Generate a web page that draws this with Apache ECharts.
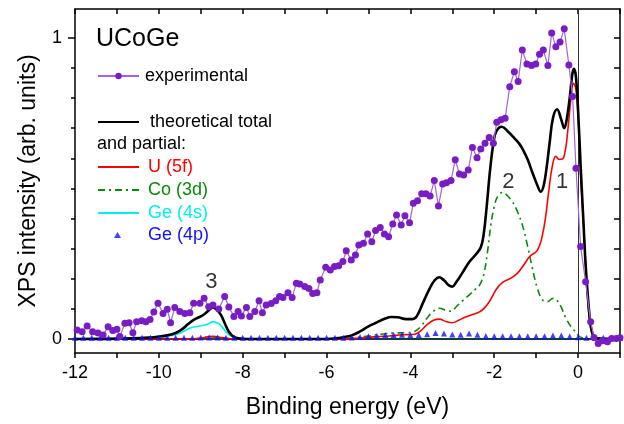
<!DOCTYPE html>
<html>
<head>
<meta charset="utf-8">
<script src="https://cdn.jsdelivr.net/npm/echarts@6/dist/echarts.min.js"></script>
<style>
  html, body { margin: 0; padding: 0; background: #ffffff; }
  #chart { width: 624px; height: 424px; }
</style>
</head>
<body>
<div id="chart"></div>
<script>
// Valence-band XPS of UCoGe: measured spectrum against the calculated total and partial DOS.

// measured spectrum: [binding energy (eV), intensity]
const experimental = [
  [-11.95, 0.030], [-11.83, 0.024], [-11.71, 0.043], [-11.58, 0.024], [-11.45, 0.020],
  [-11.33, 0.013], [-11.21, 0.041], [-11.10, 0.028], [-11.00, 0.032], [-10.93, 0.008],
  [-10.81, 0.052], [-10.71, 0.054], [-10.62, 0.021], [-10.53, 0.057], [-10.41, 0.061],
  [-10.31, 0.057], [-10.21, 0.065], [-10.12, 0.090], [-10.02, 0.119], [-9.90, 0.085],
  [-9.80, 0.099], [-9.72, 0.054], [-9.62, 0.105], [-9.50, 0.091], [-9.38, 0.085],
  [-9.26, 0.087], [-9.17, 0.119], [-9.02, 0.119], [-8.92, 0.135], [-8.81, 0.107],
  [-8.71, 0.113], [-8.57, 0.100], [-8.43, 0.141], [-8.33, 0.106], [-8.21, 0.075],
  [-8.11, 0.091], [-8.03, 0.076], [-7.91, 0.105], [-7.83, 0.075], [-7.71, 0.091],
  [-7.61, 0.127], [-7.53, 0.087], [-7.44, 0.113], [-7.32, 0.118], [-7.21, 0.127],
  [-7.12, 0.141], [-7.04, 0.138], [-6.92, 0.154], [-6.82, 0.138], [-6.72, 0.185],
  [-6.64, 0.183], [-6.52, 0.174], [-6.42, 0.168], [-6.33, 0.151], [-6.23, 0.154],
  [-6.15, 0.196], [-6.02, 0.238], [-5.91, 0.229], [-5.81, 0.241], [-5.71, 0.243],
  [-5.61, 0.257], [-5.53, 0.293], [-5.41, 0.262], [-5.31, 0.279], [-5.23, 0.312],
  [-5.12, 0.318], [-5.02, 0.349], [-4.92, 0.323], [-4.83, 0.360], [-4.72, 0.370],
  [-4.62, 0.349], [-4.52, 0.340], [-4.42, 0.382], [-4.33, 0.412], [-4.22, 0.379],
  [-4.13, 0.409], [-4.02, 0.386], [-3.93, 0.451], [-3.83, 0.459], [-3.73, 0.482],
  [-3.63, 0.482], [-3.53, 0.475], [-3.43, 0.526], [-3.33, 0.442], [-3.23, 0.515],
  [-3.14, 0.519], [-3.03, 0.526], [-2.93, 0.595], [-2.83, 0.548], [-2.73, 0.545],
  [-2.62, 0.561], [-2.52, 0.636], [-2.41, 0.602], [-2.32, 0.631], [-2.22, 0.650],
  [-2.12, 0.669], [-2.02, 0.650], [-1.94, 0.720], [-1.84, 0.728], [-1.74, 0.733],
  [-1.63, 0.838], [-1.52, 0.888], [-1.43, 0.855], [-1.33, 0.960], [-1.22, 0.913],
  [-1.11, 0.908], [-1.01, 0.913], [-0.92, 0.946], [-0.83, 0.960], [-0.72, 0.908],
  [-0.63, 1.016], [-0.53, 0.971], [-0.43, 0.986], [-0.33, 1.030], [-0.22, 0.910],
  [-0.13, 0.805], [-0.05, 0.567], [0.06, 0.307], [0.18, 0.190], [0.30, 0.057],
  [0.38, 0.005], [0.48, -0.015], [0.58, -0.006], [0.70, -0.009], [0.80, 0.002],
  [0.91, 0.002], [1.00, 0.004]
];

// calculated total DOS
const theoryTotal = [
  [-12.0, 0], [-10.6, 0.002], [-10.2, 0.005], [-10.0, 0.008], [-9.8, 0.012],
  [-9.6, 0.020], [-9.45, 0.032], [-9.3, 0.050], [-9.15, 0.065], [-9.0, 0.075],
  [-8.9, 0.084], [-8.8, 0.096], [-8.71, 0.105], [-8.62, 0.098], [-8.52, 0.080],
  [-8.42, 0.050], [-8.33, 0.024], [-8.22, 0.008], [-8.1, 0.002], [-7.9, 0],
  [-6.0, 0], [-5.8, 0.002], [-5.6, 0.006], [-5.4, 0.012], [-5.2, 0.025],
  [-5.0, 0.042], [-4.8, 0.055], [-4.6, 0.068], [-4.45, 0.073], [-4.3, 0.072],
  [-4.1, 0.066], [-3.95, 0.066], [-3.85, 0.075], [-3.7, 0.120], [-3.55, 0.165],
  [-3.42, 0.195], [-3.31, 0.205], [-3.2, 0.195], [-3.08, 0.178], [-3.0, 0.174],
  [-2.9, 0.190], [-2.75, 0.222], [-2.6, 0.255], [-2.45, 0.279], [-2.32, 0.305],
  [-2.25, 0.350], [-2.18, 0.440], [-2.1, 0.560], [-2.02, 0.650], [-1.95, 0.690],
  [-1.82, 0.705], [-1.68, 0.690], [-1.52, 0.667], [-1.4, 0.648], [-1.3, 0.625],
  [-1.2, 0.595], [-1.09, 0.553], [-0.97, 0.510], [-0.89, 0.489], [-0.82, 0.510],
  [-0.75, 0.570], [-0.68, 0.650], [-0.6, 0.733], [-0.5, 0.763], [-0.4, 0.728],
  [-0.33, 0.700], [-0.27, 0.730], [-0.2, 0.800], [-0.14, 0.877], [-0.1, 0.897],
  [-0.05, 0.870], [0.0, 0.760], [0.06, 0.578], [0.12, 0.412], [0.18, 0.246],
  [0.25, 0.113], [0.30, 0.045], [0.36, 0.012], [0.45, 0.002], [1.0, 0]
];

// U 5f partial DOS
const u5f = [
  [-12.0, 0], [-9.3, 0], [-9.0, 0.003], [-8.8, 0.008], [-8.7, 0.009],
  [-8.55, 0.006], [-8.3, 0.001], [-8.0, 0], [-5.6, 0], [-5.2, 0.003],
  [-4.8, 0.008], [-4.5, 0.010], [-4.2, 0.014], [-3.9, 0.016], [-3.75, 0.028],
  [-3.6, 0.048], [-3.45, 0.062], [-3.31, 0.066], [-3.15, 0.058], [-3.0, 0.054],
  [-2.85, 0.062], [-2.7, 0.072], [-2.5, 0.082], [-2.35, 0.090], [-2.22, 0.105],
  [-2.1, 0.128], [-1.95, 0.165], [-1.8, 0.188], [-1.6, 0.202], [-1.45, 0.218],
  [-1.3, 0.245], [-1.15, 0.275], [-1.0, 0.290], [-0.92, 0.310], [-0.85, 0.345],
  [-0.78, 0.400], [-0.7, 0.490], [-0.62, 0.570], [-0.53, 0.607], [-0.45, 0.596],
  [-0.37, 0.598], [-0.3, 0.630], [-0.24, 0.700], [-0.17, 0.800], [-0.11, 0.849],
  [-0.05, 0.830], [0.01, 0.711], [0.06, 0.545], [0.14, 0.356], [0.2, 0.202],
  [0.26, 0.080], [0.33, 0.020], [0.4, 0.003], [0.5, 0], [1.0, 0]
];

// Co 3d partial DOS
const co3d = [
  [-12.0, 0], [-9.2, 0], [-9.0, 0.003], [-8.75, 0.007], [-8.5, 0.004],
  [-8.2, 0], [-5.8, 0], [-5.4, 0.004], [-5.0, 0.010], [-4.7, 0.016],
  [-4.4, 0.020], [-4.1, 0.021], [-3.9, 0.025], [-3.75, 0.042], [-3.6, 0.070],
  [-3.45, 0.092], [-3.31, 0.102], [-3.15, 0.095], [-3.03, 0.092], [-2.9, 0.108],
  [-2.75, 0.128], [-2.6, 0.146], [-2.45, 0.165], [-2.36, 0.176], [-2.25, 0.215],
  [-2.16, 0.290], [-2.08, 0.380], [-2.0, 0.440], [-1.92, 0.473], [-1.8, 0.487],
  [-1.7, 0.478], [-1.6, 0.462], [-1.48, 0.434], [-1.33, 0.379], [-1.21, 0.312],
  [-1.09, 0.235], [-0.97, 0.168], [-0.85, 0.130], [-0.73, 0.124], [-0.6, 0.135],
  [-0.5, 0.128], [-0.4, 0.105], [-0.3, 0.072], [-0.17, 0.041], [-0.06, 0.024],
  [0.02, 0.010], [0.12, 0.003], [0.3, 0], [1.0, 0]
];

// Ge 4s partial DOS
const ge4s = [
  [-12.0, 0], [-10.5, 0.001], [-10.0, 0.004], [-9.75, 0.010], [-9.5, 0.019],
  [-9.26, 0.036], [-9.02, 0.043], [-8.83, 0.050], [-8.71, 0.057], [-8.6, 0.053],
  [-8.5, 0.042], [-8.39, 0.022], [-8.25, 0.007], [-8.1, 0.001], [-7.8, 0], [1.0, 0]
];

// Ge 4p partial DOS (sampled every 0.2 eV)
const ge4pEnergy = [
  -12.0, -11.8, -11.6, -11.4, -11.2, -11.0, -10.8, -10.6, -10.4, -10.2,
  -10.0, -9.8, -9.6, -9.4, -9.2, -9.0, -8.8, -8.6, -8.4, -8.2,
  -8.0, -7.8, -7.6, -7.4, -7.2, -7.0, -6.8, -6.6, -6.4, -6.2,
  -6.0, -5.8, -5.6, -5.4, -5.2, -5.0, -4.8, -4.6, -4.4, -4.2,
  -4.0, -3.8, -3.6, -3.4, -3.2, -3.0, -2.8, -2.6, -2.4, -2.2,
  -2.0, -1.8, -1.6, -1.4, -1.2, -1.0, -0.8, -0.6, -0.4, -0.2,
  0.0, 0.2, 0.4, 0.6, 0.8, 1.0
];
const ge4pValue = [
  0.004, 0.004, 0.004, 0.004, 0.004, 0.004, 0.004, 0.004, 0.004, 0.004,
  0.004, 0.004, 0.004, 0.004, 0.004, 0.005, 0.005, 0.005, 0.004, 0.004,
  0.004, 0.004, 0.004, 0.004, 0.004, 0.004, 0.004, 0.004, 0.004, 0.004,
  0.004, 0.004, 0.004, 0.005, 0.007, 0.009, 0.011, 0.013, 0.013, 0.014,
  0.013, 0.013, 0.016, 0.020, 0.018, 0.015, 0.014, 0.018, 0.014, 0.010,
  0.009, 0.009, 0.009, 0.009, 0.009, 0.009, 0.009, 0.012, 0.012, 0.008,
  0.006, 0.004, 0.004, 0.004, 0.004, 0.004
];

// peak labels: [energy, height, text]
const peakLabels = [
  [-8.75, 0.19, '3'],
  [-1.66, 0.52, '2'],
  [-0.38, 0.52, '1']
];

// axis ticks and labels
const xTicks = [-12, -11, -10, -9, -8, -7, -6, -5, -4, -3, -2, -1, 0, 1];
const xLabels = [-12, -10, -8, -6, -4, -2, 0];
const yMajor = [0, 1];
const yMinor = [0.1, 0.2, 0.3, 0.4, 0.5, 0.6, 0.7, 0.8, 0.9];
const yRightTicks = [0, 0.1, 0.2, 0.3, 0.4, 0.5, 0.6, 0.7, 0.8, 0.9, 1.0];

const FONT = '"Liberation Sans", Arial, sans-serif';
const X_MIN = -12, X_MAX = 1;
const Y_MIN = -0.0465, Y_MAX = 1.096;

const colors = {
  expDot: '#7a1cc4',
  expLine: '#a065dc',
  total: '#000000',
  u: '#ff0000',
  co: '#0a8a0a',
  ge4s: '#00f0f0',
  ge4p: '#1010ff'
};

// one legend entry per block so each row sits at its own height
function legendItem(name, top, textColor, opts) {
  return Object.assign({
    left: 97,
    top: top,
    padding: 0,
    itemWidth: 41,
    itemHeight: 8,
    itemGap: 0,
    selectedMode: false,
    itemStyle: { opacity: 0 },
    textStyle: { fontFamily: FONT, fontSize: 18, color: textColor, padding: [0, 0, 0, 1] },
    data: [{ name: name }]
  }, opts || {});
}

const chart = echarts.init(document.getElementById('chart'), null, { renderer: 'canvas' });

const axisLineStyle = { color: '#000', width: 1.5 };

chart.setOption({
  animation: false,
  backgroundColor: '#ffffff',
  grid: { left: 75, right: 4, top: 9, bottom: 71, containLabel: false },
  title: {
    text: 'UCoGe',
    left: 96,
    top: 27,
    padding: 0,
    textStyle: { fontFamily: FONT, fontSize: 25, fontWeight: 'normal', color: '#000' }
  },
  graphic: [{
    type: 'text',
    left: 97,
    top: 135,
    style: { text: 'and partial:', fontFamily: FONT, fontSize: 18, fill: '#000' }
  }],
  legend: [
    legendItem('experimental', 67, '#000', { itemStyle: {} }),
    legendItem('theoretical total', 113, '#000', {
      textStyle: { fontFamily: FONT, fontSize: 18, color: '#000', padding: [0, 0, 0, 6] }
    }),
    legendItem('U (5f)', 158, colors.u, {
      textStyle: { fontFamily: FONT, fontSize: 18, color: colors.u, padding: [0, 0, 0, 4] }
    }),
    legendItem('Co (3d)', 181, colors.co, {
      textStyle: { fontFamily: FONT, fontSize: 18, color: colors.co, padding: [0, 0, 0, 4] }
    }),
    legendItem('Ge (4s)', 204, colors.ge4s, {
      textStyle: { fontFamily: FONT, fontSize: 18, color: colors.ge4s, padding: [0, 0, 0, 4] }
    }),
    legendItem('Ge (4p)', 226, colors.ge4p, {
      left: 114,
      itemWidth: 7,
      itemHeight: 6,
      itemStyle: {},
      icon: 'triangle',
      textStyle: { fontFamily: FONT, fontSize: 18, color: colors.ge4p, padding: [0, 0, 0, 22] }
    })
  ],
  xAxis: [{
    type: 'value',
    position: 'bottom',
    min: X_MIN, max: X_MAX,
    axisLine: { show: true, onZero: false, lineStyle: axisLineStyle },
    axisTick: { show: true, inside: false, length: 5, customValues: xTicks, lineStyle: axisLineStyle },
    axisLabel: { customValues: xLabels, fontFamily: FONT, fontSize: 18, color: '#000', margin: 11 },
    splitLine: { show: false },
    name: 'Binding energy (eV)',
    nameLocation: 'middle',
    nameGap: 43,
    nameTextStyle: { fontFamily: FONT, fontSize: 23, color: '#000' }
  }, {
    type: 'value',
    position: 'top',
    min: X_MIN, max: X_MAX,
    axisLine: { show: true, onZero: false, lineStyle: axisLineStyle },
    axisTick: { show: true, inside: true, length: 5, customValues: xTicks, lineStyle: axisLineStyle },
    axisLabel: { show: false },
    splitLine: { show: false }
  }],
  yAxis: [{
    type: 'value',
    position: 'left',
    min: Y_MIN, max: Y_MAX,
    axisLine: { show: true, onZero: false, lineStyle: axisLineStyle },
    axisTick: { show: true, inside: false, length: 7, customValues: yMajor, lineStyle: axisLineStyle },
    axisLabel: { customValues: yMajor, fontFamily: FONT, fontSize: 18, color: '#000', margin: 13 },
    splitLine: { show: false },
    name: 'XPS intensity (arb. units)',
    nameLocation: 'middle',
    nameGap: 35,
    nameTextStyle: { fontFamily: FONT, fontSize: 23, color: '#000' }
  }, {
    type: 'value',
    position: 'left',
    min: Y_MIN, max: Y_MAX,
    axisLine: { show: false, onZero: false },
    axisTick: { show: true, inside: false, length: 4, customValues: yMinor, lineStyle: axisLineStyle },
    axisLabel: { show: false },
    splitLine: { show: false }
  }, {
    type: 'value',
    position: 'right',
    min: Y_MIN, max: Y_MAX,
    axisLine: { show: true, onZero: false, lineStyle: axisLineStyle },
    axisTick: { show: true, inside: true, length: 6, customValues: yRightTicks, lineStyle: axisLineStyle },
    axisLabel: { show: false },
    splitLine: { show: false }
  }],
  series: [
    {
      name: 'Ge (4s)',
      type: 'line',
      data: ge4s,
      smooth: 0.4,
      symbol: 'none',
      lineStyle: { color: colors.ge4s, width: 1.6 },
      itemStyle: { color: colors.ge4s },
      z: 3
    },
    {
      name: 'Co (3d)',
      type: 'line',
      data: co3d,
      smooth: 0.4,
      symbol: 'none',
      lineStyle: { color: colors.co, width: 1.6, type: [7, 4, 2, 4] },
      itemStyle: { color: colors.co },
      z: 4
    },
    {
      name: 'U (5f)',
      type: 'line',
      data: u5f,
      smooth: 0.4,
      symbol: 'none',
      lineStyle: { color: colors.u, width: 1.6 },
      itemStyle: { color: colors.u },
      z: 5
    },
    {
      name: 'theoretical total',
      type: 'line',
      data: theoryTotal,
      smooth: 0.4,
      symbol: 'none',
      lineStyle: { color: colors.total, width: 2.6 },
      itemStyle: { color: colors.total },
      z: 6,
      markLine: {
        silent: true,
        symbol: ['none', 'none'],
        label: { show: false },
        data: [
          { yAxis: 0, lineStyle: { color: '#000', width: 1.5, type: 'solid' } },
          { xAxis: 0, lineStyle: { color: '#333', width: 1, type: 'solid' } }
        ]
      }
    },
    {
      name: 'Ge (4p)',
      type: 'scatter',
      data: ge4pEnergy.map((e, i) => [e, ge4pValue[i]]),
      symbol: 'triangle',
      symbolSize: 6,
      itemStyle: { color: colors.ge4p },
      z: 7
    },
    {
      name: 'experimental',
      type: 'line',
      data: experimental,
      symbol: 'circle',
      symbolSize: 7,
      showSymbol: true,
      lineStyle: { color: colors.expLine, width: 1.2 },
      itemStyle: { color: colors.expDot, borderWidth: 0 },
      z: 8
    },
    {
      name: 'peaks',
      type: 'scatter',
      data: peakLabels,
      symbolSize: 0,
      silent: true,
      label: {
        show: true,
        position: 'inside',
        formatter: p => p.data[2],
        fontFamily: FONT,
        fontSize: 22,
        color: '#000'
      },
      z: 9
    }
  ]
});
</script>
</body>
</html>
